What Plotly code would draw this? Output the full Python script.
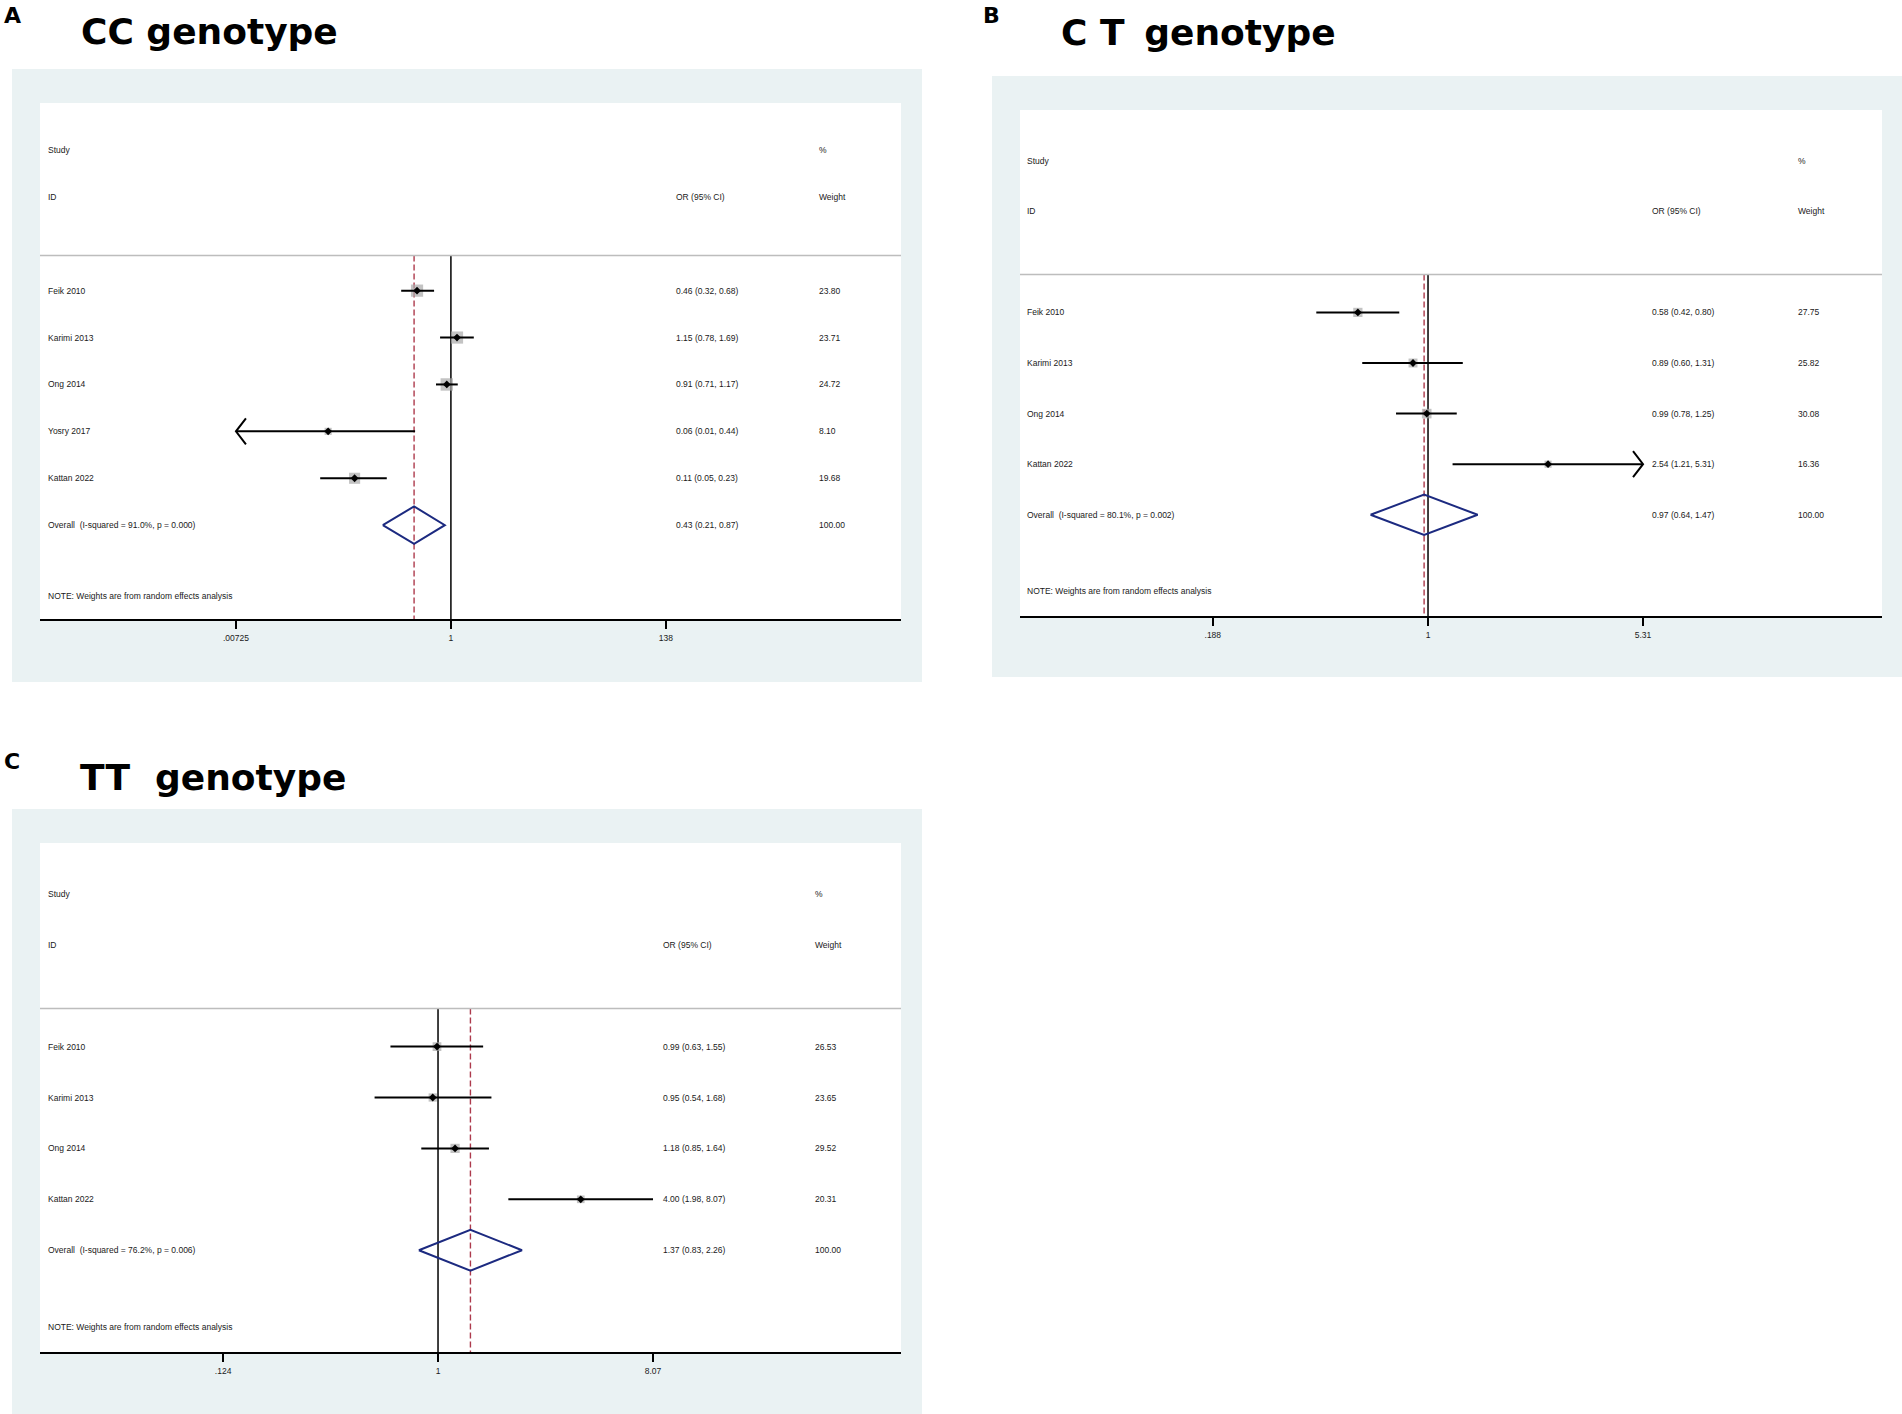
import math
import plotly.graph_objects as go

W, H = 1902, 1414

# ---------------- data ----------------
# Panel A: CC genotype
a_study = ["Feik 2010", "Karimi 2013", "Ong 2014", "Yosry 2017", "Kattan 2022"]
a_or = [0.46, 1.15, 0.91, 0.06, 0.11]
a_lo = [0.32, 0.78, 0.71, 0.01, 0.05]
a_hi = [0.68, 1.69, 1.17, 0.44, 0.23]
a_weight = [23.80, 23.71, 24.72, 8.10, 19.68]
a_clip = [None, None, None, "left", None]
a_overall = [0.43, 0.21, 0.87]
a_overall_weight = 100.00
a_i2, a_p = "91.0%", "0.000"
a_ticks = [0.00725, 1, 138]
a_ticklabels = [".00725", "1", "138"]

# Panel B: CT genotype
b_study = ["Feik 2010", "Karimi 2013", "Ong 2014", "Kattan 2022"]
b_or = [0.58, 0.89, 0.99, 2.54]
b_lo = [0.42, 0.60, 0.78, 1.21]
b_hi = [0.80, 1.31, 1.25, 5.31]
b_weight = [27.75, 25.82, 30.08, 16.36]
b_clip = [None, None, None, "right"]
b_overall = [0.97, 0.64, 1.47]
b_overall_weight = 100.00
b_i2, b_p = "80.1%", "0.002"
b_ticks = [0.188, 1, 5.31]
b_ticklabels = [".188", "1", "5.31"]

# Panel C: TT genotype
c_study = ["Feik 2010", "Karimi 2013", "Ong 2014", "Kattan 2022"]
c_or = [0.99, 0.95, 1.18, 4.00]
c_lo = [0.63, 0.54, 0.85, 1.98]
c_hi = [1.55, 1.68, 1.64, 8.07]
c_weight = [26.53, 23.65, 29.52, 20.31]
c_clip = [None, None, None, None]
c_overall = [1.37, 0.83, 2.26]
c_overall_weight = 100.00
c_i2, c_p = "76.2%", "0.006"
c_ticks = [0.124, 1, 8.07]
c_ticklabels = [".124", "1", "8.07"]

# ---------------- layout / style ----------------
GRAY_BG = "#eaf2f3"
TXT = "#1a1a1a"
FONT = "Liberation Sans"
TITLE_FONT = "DejaVu Sans"
SMALL = 8.5
RED = "#ad3a4c"
NAVY = "#1c2a80"

panels = [
    dict(n=1, study=a_study, est=a_or, lo=a_lo, hi=a_hi, w=a_weight, clip=a_clip,
         ov=a_overall, ovw=a_overall_weight, i2=a_i2, p=a_p, ticks=a_ticks, ticklabels=a_ticklabels,
         gray=(12, 69, 922, 682), white=(40, 103, 901, 619), xr=(-4.09, 4.48),
         col_study=46, col_or=674, col_w=817, box_k=2.5,
         letter="A", letter_xy=(2, 16), title="CC genotype", title_xy=(79, 31)),
    dict(n=2, study=b_study, est=b_or, lo=b_lo, hi=b_hi, w=b_weight, clip=b_clip,
         ov=b_overall, ovw=b_overall_weight, i2=b_i2, p=b_p, ticks=b_ticks, ticklabels=b_ticklabels,
         gray=(992, 76, 1902, 677), white=(1020, 110, 1882, 616), xr=(-1.376, 1.531),
         col_study=1025, col_or=1650, col_w=1796, box_k=1.75,
         letter="B", letter_xy=(981, 16), title="C T\u2009 genotype", title_xy=(1059, 32)),
    dict(n=3, study=c_study, est=c_or, lo=c_lo, hi=c_hi, w=c_weight, clip=c_clip,
         ov=c_overall, ovw=c_overall_weight, i2=c_i2, p=c_p, ticks=c_ticks, ticklabels=c_ticklabels,
         gray=(12, 809, 922, 1414), white=(40, 843, 901, 1352), xr=(-1.679, 1.953),
         col_study=46, col_or=661, col_w=813, box_k=1.7,
         letter="C", letter_xy=(2, 761), title="TT\u00a0 genotype", title_xy=(78, 777)),
]

fig = go.Figure()
shapes = []
annotations = []
layout_axes = {}

def px(x):
    return x / W

def py(y):
    return 1 - y / H

for P in panels:
    n = P["n"]
    xa = "x" if n == 1 else f"x{n}"
    ya = "y" if n == 1 else f"y{n}"
    k = len(P["study"])
    r_overall = k
    r_note = k + 1.5
    r_bottom = k + 2
    r_top = -4
    r_sep = -0.75
    gx0, gy0, gx1, gy1 = P["gray"]
    wx0, wy0, wx1, wy1 = P["white"]
    ppd = (wx1 - wx0) / (P["xr"][1] - P["xr"][0])  # pixels per decade
    rowpx = (wy1 - wy0) / (r_bottom - r_top)

    # backgrounds
    shapes.append(dict(type="rect", xref="paper", yref="paper", x0=px(gx0), x1=px(gx1),
                       y0=py(gy1), y1=py(gy0), fillcolor=GRAY_BG, line=dict(width=0), layer="below"))
    shapes.append(dict(type="rect", xref="paper", yref="paper", x0=px(wx0), x1=px(wx1),
                       y0=py(wy1), y1=py(wy0), fillcolor="white", line=dict(width=0), layer="below"))
    # separator
    shapes.append(dict(type="line", xref=f"{xa} domain", yref=ya, x0=0, x1=1, y0=r_sep, y1=r_sep,
                       line=dict(color="#bdbdbd", width=1.6)))

    # axes
    xkey = "xaxis" if n == 1 else f"xaxis{n}"
    ykey = "yaxis" if n == 1 else f"yaxis{n}"
    layout_axes[xkey] = dict(type="log", range=list(P["xr"]), domain=[px(wx0), px(wx1)],
                             anchor=ya, showline=True, linecolor="black", linewidth=1.6,
                             ticks="outside", ticklen=8, tickwidth=1.5, tickcolor="black",
                             tickvals=P["ticks"], ticktext=P["ticklabels"], ticklabelstandoff=2,
                             tickfont=dict(family=FONT, size=SMALL, color=TXT),
                             showgrid=False, zeroline=False, fixedrange=True)
    layout_axes[ykey] = dict(range=[r_bottom, r_top], domain=[py(wy1), py(wy0)], anchor=xa,
                             visible=False, showgrid=False, zeroline=False, fixedrange=True)

    tmin, tmax = min(P["ticks"]), max(P["ticks"])
    arm_dx = 10 / ppd
    arm_dy = 13 / rowpx

    # reference line at 1 (no effect)
    fig.add_trace(go.Scatter(x=[1, 1], y=[r_sep, r_bottom], mode="lines", xaxis=xa, yaxis=ya,
                             line=dict(color="black", width=1.5), hoverinfo="skip", showlegend=False))
    # overall dashed line
    fig.add_trace(go.Scatter(x=[P["ov"][0], P["ov"][0]], y=[r_sep, r_bottom], mode="lines",
                             xaxis=xa, yaxis=ya, line=dict(color=RED, width=1.4, dash="6px,3px"),
                             hoverinfo="skip", showlegend=False))

    # weight boxes
    fig.add_trace(go.Scatter(x=P["est"], y=list(range(k)), mode="markers", xaxis=xa, yaxis=ya,
                             marker=dict(symbol="square", color="#aaaaaa",
                                         size=[P["box_k"] * math.sqrt(w) for w in P["w"]],
                                         line=dict(width=0)),
                             hoverinfo="skip", showlegend=False))

    # CI lines
    cx, cy = [], []
    for i in range(k):
        lo = P["lo"][i]
        hi = P["hi"][i]
        if P["clip"][i] == "left":
            lo = tmin
        if P["clip"][i] == "right":
            hi = tmax
        cx += [lo, hi, None]
        cy += [i, i, None]
        if P["clip"][i] == "left":
            tip = math.log10(tmin)
            cx += [10 ** (tip + arm_dx), tmin, 10 ** (tip + arm_dx), None]
            cy += [i - arm_dy, i, i + arm_dy, None]
        if P["clip"][i] == "right":
            tip = math.log10(tmax)
            cx += [10 ** (tip - arm_dx), tmax, 10 ** (tip - arm_dx), None]
            cy += [i - arm_dy, i, i + arm_dy, None]
    fig.add_trace(go.Scatter(x=cx, y=cy, mode="lines", xaxis=xa, yaxis=ya,
                             line=dict(color="black", width=2), hoverinfo="skip", showlegend=False))

    # point estimates
    fig.add_trace(go.Scatter(x=P["est"], y=list(range(k)), mode="markers", xaxis=xa, yaxis=ya,
                             marker=dict(symbol="diamond", color="black", size=6),
                             hoverinfo="skip", showlegend=False))

    # overall diamond
    est, olo, ohi = P["ov"]
    h = 0.4
    fig.add_trace(go.Scatter(x=[olo, est, ohi, est, olo],
                             y=[r_overall, r_overall - h, r_overall, r_overall + h, r_overall],
                             mode="lines", xaxis=xa, yaxis=ya,
                             line=dict(color=NAVY, width=2), hoverinfo="skip", showlegend=False))

    # text columns
    def txt(xpix, yrow, s):
        annotations.append(dict(text=s, xref="paper", yref=ya, x=px(xpix), y=yrow,
                                xanchor="left", yanchor="middle", showarrow=False,
                                font=dict(family=FONT, size=SMALL, color=TXT)))

    txt(P["col_study"], -3, "Study")
    txt(P["col_study"], -2, "ID")
    txt(P["col_or"], -2, "OR (95% CI)")
    txt(P["col_w"], -3, "%")
    txt(P["col_w"], -2, "Weight")
    for i in range(k):
        txt(P["col_study"], i, P["study"][i])
        txt(P["col_or"], i, f"{P['est'][i]:.2f} ({P['lo'][i]:.2f}, {P['hi'][i]:.2f})")
        txt(P["col_w"], i, f"{P['w'][i]:.2f}")
    txt(P["col_study"], r_overall, f"Overall\u00a0 (I-squared = {P['i2']}, p = {P['p']})")
    txt(P["col_or"], r_overall, f"{est:.2f} ({olo:.2f}, {ohi:.2f})")
    txt(P["col_w"], r_overall, f"{P['ovw']:.2f}")
    txt(P["col_study"], r_note, "NOTE: Weights are from random effects analysis")

    # panel letter and title
    lx, ly = P["letter_xy"]
    annotations.append(dict(text=f"<b>{P['letter']}</b>", xref="paper", yref="paper",
                            x=px(lx), y=py(ly), xanchor="left", yanchor="middle", showarrow=False,
                            font=dict(family=TITLE_FONT, size=22, color="black")))
    tx, ty = P["title_xy"]
    annotations.append(dict(text=f"<b>{P['title']}</b>", xref="paper", yref="paper",
                            x=px(tx), y=py(ty), xanchor="left", yanchor="middle", showarrow=False,
                            font=dict(family=TITLE_FONT, size=36, color="black")))

fig.update_layout(width=W, height=H, autosize=False, margin=dict(l=0, r=0, t=0, b=0),
                  paper_bgcolor="white", plot_bgcolor="rgba(0,0,0,0)",
                  shapes=shapes, annotations=annotations, showlegend=False, **layout_axes)

fig.write_html("out.html", config={"displayModeBar": False},
               post_script="document.body.style.margin='0px';document.body.style.overflow='hidden';")
